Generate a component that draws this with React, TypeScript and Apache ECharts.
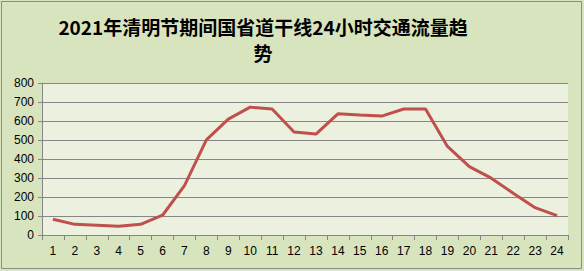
import React, { useEffect, useRef } from "react";
import * as echarts from "echarts";

const titleText = "2021年清明节期间国省道干线24小时交通流量趋\n势";
const hours = ["1","2","3","4","5","6","7","8","9","10","11","12","13","14","15","16","17","18","19","20","21","22","23","24"];
const flow = [83, 56, 51, 46, 56, 104, 260, 501, 610, 673, 663, 542, 531, 638, 631, 626, 663, 663, 466, 360, 299, 220, 144, 102];
const yMin = 0;
const yMax = 800;
const yStep = 100;

export default function App() {
  const ref = useRef<HTMLDivElement>(null);
  useEffect(() => {
    document.body.style.margin = "0";
    const chart = echarts.init(ref.current!, null, { renderer: "svg" });
    chart.setOption({
      animation: false,
      backgroundColor: "#d7e4bd",
      title: {
        text: titleText,
        left: 258,
        top: 8,
        textAlign: "center",
        textStyle: {
          fontFamily: "'Noto Sans CJK SC', sans-serif",
          fontWeight: "bold",
          fontSize: 19,
          lineHeight: 26,
          color: "#000000",
        },
      },
      graphic: [
        {
          type: "rect",
          shape: { x: 1.5, y: 1.5, width: 580, height: 267 },
          style: { fill: "none", stroke: "#8c8c8c", lineWidth: 1 },
          z: 100,
        },
      ],
      grid: {
        left: 42,
        right: 16,
        top: 83,
        bottom: 36,
        show: true,
        backgroundColor: "#ebf1de",
        borderWidth: 0,
      },
      xAxis: {
        type: "category",
        data: hours,
        boundaryGap: true,
        axisLine: { show: true, lineStyle: { color: "#868686", width: 1 } },
        axisTick: { show: true, length: 5, alignWithLabel: false, lineStyle: { color: "#868686" } },
        axisLabel: {
          margin: 10,
          fontSize: 12,
          color: "#000000",
          fontFamily: "'Liberation Sans', sans-serif",
          interval: 0,
        },
      },
      yAxis: {
        type: "value",
        min: yMin,
        max: yMax,
        interval: yStep,
        axisLine: { show: true, lineStyle: { color: "#868686", width: 1 } },
        axisTick: { show: true, length: 4, inside: false, lineStyle: { color: "#868686" } },
        axisLabel: {
          margin: 8,
          fontSize: 12,
          color: "#000000",
          fontFamily: "'Liberation Sans', sans-serif",
        },
        splitLine: { show: true, lineStyle: { color: "#868686", width: 1 } },
      },
      series: [
        {
          type: "line",
          data: flow,
          showSymbol: false,
          symbol: "none",
          smooth: false,
          lineStyle: { color: "#c0504d", width: 3 },
        },
      ],
    });
    return () => chart.dispose();
  }, []);
  return <div ref={ref} style={{ width: 584, height: 271 }} />;
}
